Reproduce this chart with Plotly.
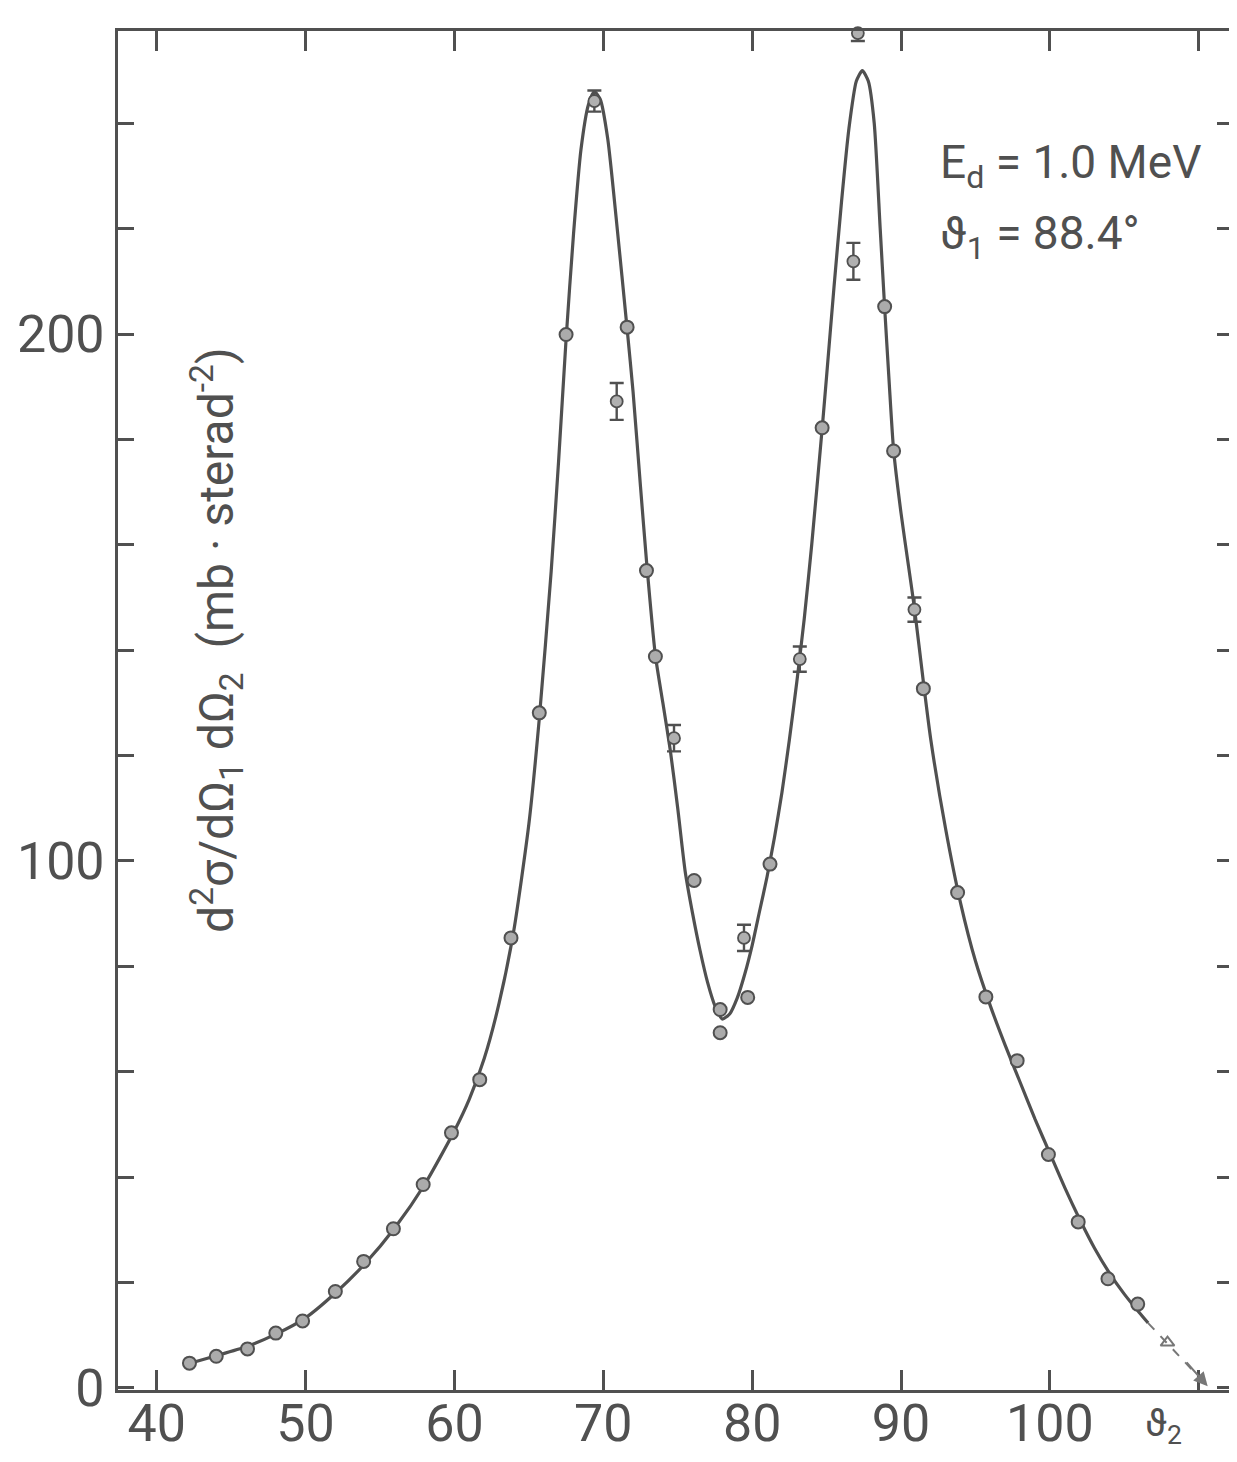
import plotly.graph_objects as go

# ---- data ----
curve_x = [42, 44, 46, 48, 50, 52, 54, 56, 58, 60,
           61, 62, 63, 64, 65, 65.7, 66.5, 67, 67.5, 68,
           68.5, 69, 69.4, 69.8, 70.3, 70.9, 71.6, 72, 72.5, 72.9,
           73.5, 74, 74.5, 75, 75.5, 76, 76.5, 77, 77.5, 78,
           78.5, 79, 79.5, 80, 80.5, 81, 81.5, 82, 82.5, 83,
           83.5, 84, 84.7, 85, 85.5, 86, 86.5, 87, 87.4, 87.8,
           88.2, 88.6, 88.9, 89.2, 89.5, 90, 90.5, 90.9, 91.5, 92,
           93, 94, 95, 96, 97, 98, 99, 100, 101, 102,
           103, 104, 105, 106, 106.6]
curve_y = [4.5, 6.1, 7.8, 10.2, 13.3, 18, 23.6, 30.4, 38.6, 48.8,
           54.8, 62.5, 73, 87, 107, 127, 155, 176, 199, 219,
           235, 243.5, 246, 244.5, 237, 221, 201, 189, 171, 157,
           139, 130, 121, 110, 98, 90, 83, 77, 72.5, 70,
           71, 74, 78.5, 84, 90.5, 97, 104.5, 113, 123, 134,
           146, 160, 182, 192, 209, 225, 239, 248, 250, 248,
           240, 220, 205, 191, 178, 166, 156, 148, 134, 123,
           106, 92, 81, 72.5, 65, 58, 51, 44.5, 38, 32,
           26.5, 21.8, 17.8, 14.3, 12.3]
assert len(curve_x) == len(curve_y)

pts_x = [42.2, 44.0, 46.1, 48.0, 49.8, 52.0, 53.9, 55.9, 57.9, 59.8,
         61.7, 63.8, 65.7, 67.5, 71.6, 72.9, 73.5, 76.1, 77.85, 77.85,
         79.7, 81.2, 84.7, 88.9, 89.5, 91.5, 93.8, 95.7, 97.8, 99.9,
         101.9, 103.9, 105.9]
pts_y = [4.7, 6.0, 7.4, 10.4, 12.7, 18.3, 24.0, 30.2, 38.6, 48.4,
         58.5, 85.4, 128.1, 199.9, 201.3, 155.1, 138.8, 96.3, 71.8, 67.4,
         74.1, 99.4, 182.2, 205.2, 177.8, 132.7, 94.0, 74.2, 62.1, 44.3,
         31.5, 20.7, 15.9]

err_x = [69.4, 70.9, 74.75, 79.45, 83.2, 86.8, 87.1, 90.9]
err_y = [244.2, 187.2, 123.3, 85.4, 138.3, 213.8, 257.1, 147.7]
err_e = [2.0, 3.5, 2.5, 2.5, 2.4, 3.5, 1.5, 2.3]

ext_x = [106.6, 110.6]
ext_y = [12.3, 0.3]
tri_x = [107.9]
tri_y = [8.6]

x_ticks = [40, 50, 60, 70, 80, 90, 100, 110]
x_labels = ["40", "50", "60", "70", "80", "90", "100", ""]
y_ticks = list(range(0, 241, 20))
y_labels = ["0" if v == 0 else ("100" if v == 100 else ("200" if v == 200 else "")) for v in y_ticks]

INK = "#505050"
FONT = "Roboto"

fig = go.Figure()

fig.add_trace(go.Scatter(x=curve_x, y=curve_y, mode="lines",
                         line=dict(color=INK, width=3.2, shape="spline", smoothing=0.6),
                         hoverinfo="skip", showlegend=False))

fig.add_trace(go.Scatter(x=ext_x, y=ext_y, mode="lines",
                         line=dict(color="#777", width=2, dash="dash"),
                         showlegend=False))

fig.add_trace(go.Scatter(x=tri_x, y=tri_y, mode="markers",
                         marker=dict(size=12, symbol="triangle-up-open", color="#777",
                                     line=dict(color="#777", width=2)),
                         showlegend=False))

fig.add_trace(go.Scatter(x=pts_x, y=pts_y, mode="markers",
                         marker=dict(size=13, color="#ababab",
                                     line=dict(color=INK, width=2)),
                         showlegend=False, cliponaxis=False))

fig.add_trace(go.Scatter(x=err_x, y=err_y, mode="markers",
                         marker=dict(size=12, color="#b0b0b0",
                                     line=dict(color=INK, width=1.8)),
                         error_y=dict(type="data", array=err_e, visible=True,
                                      color=INK, thickness=2.4, width=7),
                         showlegend=False, cliponaxis=False))

# arrow head at the end of the extrapolation
fig.add_annotation(x=ext_x[1], y=ext_y[1], ax=tri_x[0] + 1.2, ay=tri_y[0] - 3.5,
                   xref="x", yref="y", axref="x", ayref="y",
                   showarrow=True, arrowhead=2, arrowsize=1.4, arrowwidth=2,
                   arrowcolor="#777", text="")

fig.add_annotation(x=92.5, y=232, xref="x", yref="y", xanchor="left", yanchor="middle",
                   text="E<sub>d</sub> = 1.0 MeV", showarrow=False,
                   font=dict(family=FONT, size=46, color=INK))
fig.add_annotation(x=92.5, y=218.5, xref="x", yref="y", xanchor="left", yanchor="middle",
                   text="ϑ<sub>1</sub> = 88.4°", showarrow=False,
                   font=dict(family=FONT, size=46, color=INK))

fig.add_annotation(x=44.0, y=142, xref="x", yref="y", textangle=-90,
                   text="d<sup>2</sup>σ/dΩ<sub>1</sub> dΩ<sub>2</sub>  (mb · sterad<sup>-2</sup>)",
                   showarrow=False, font=dict(family=FONT, size=48, color=INK))

fig.add_annotation(x=107.6, y=-0.026, xref="x", yref="paper", yanchor="middle",
                   text="ϑ<sub>2</sub>", showarrow=False,
                   font=dict(family=FONT, size=38, color=INK))

axis_common = dict(showgrid=False, zeroline=False, showline=True, linecolor=INK,
                   linewidth=3, mirror="allticks", ticks="inside", tickcolor=INK,
                   tickwidth=2.5, tickfont=dict(family=FONT, size=52, color=INK))

fig.update_xaxes(range=[37.4, 112.3], tickvals=x_ticks, ticktext=x_labels,
                 ticklen=20, ticklabelstandoff=-14, **axis_common)
fig.update_yaxes(range=[-0.4, 257.5], tickvals=y_ticks, ticktext=y_labels,
                 ticklen=16, **axis_common)

fig.update_layout(width=1237, height=1462,
                  margin=dict(l=100, r=9, t=23, b=80),
                  paper_bgcolor="#ffffff", plot_bgcolor="#ffffff",
                  showlegend=False)

fig.write_html("out.html")
